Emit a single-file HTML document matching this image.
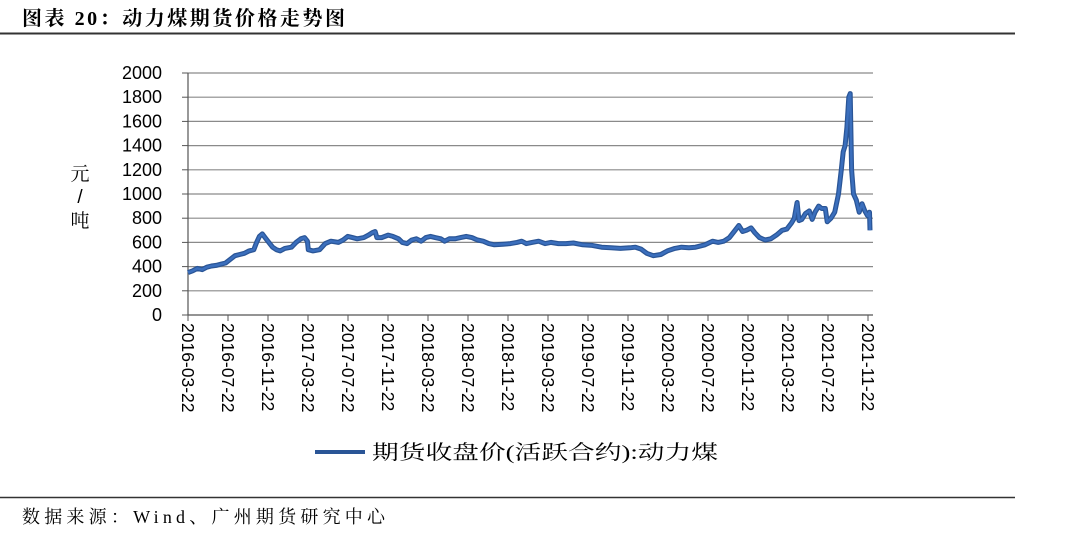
<!DOCTYPE html>
<html><head><meta charset="utf-8">
<style>
body{margin:0;background:#fff;width:1080px;height:541px;overflow:hidden}
svg{display:block}
text{font-family:"Liberation Sans","Noto Sans CJK SC",sans-serif}
.cn{font-family:"Liberation Serif","Noto Serif CJK SC",serif}
</style></head><body>
<svg id="s" width="1080" height="541" viewBox="0 0 1080 541" xmlns="http://www.w3.org/2000/svg">
<text x="22" y="25" class="cn" font-size="20" font-weight="bold" fill="#000" textLength="323" lengthAdjust="spacing">图表 20：动力煤期货价格走势图</text>
<line x1="0" y1="33.5" x2="1015" y2="33.5" stroke="#333" stroke-width="2"/>
<g id="grid"></g>
<g id="ylab" font-size="18" fill="#000" text-anchor="end" style="font-family:'DejaVu Sans',sans-serif"></g>
<text x="80" y="180" class="cn" font-size="19" text-anchor="middle">元</text>
<text x="80" y="203" font-size="19" text-anchor="middle">/</text>
<text x="80" y="227" class="cn" font-size="19" text-anchor="middle">吨</text>
<g id="xlab" font-size="17.5" fill="#000"></g>
<polyline id="ln1" fill="none" stroke="#2a5596" stroke-width="5" stroke-linejoin="round"/>
<polyline id="ln2" fill="none" stroke="#3b6fbd" stroke-width="2.5" stroke-linejoin="round"/>
<line x1="315" y1="452" x2="365" y2="452" stroke="#2a5596" stroke-width="4"/>
<text x="372" y="459" class="cn" font-size="20" textLength="346" lengthAdjust="spacingAndGlyphs">期货收盘价(活跃合约):动力煤</text>
<line x1="0" y1="497.5" x2="1015" y2="497.5" stroke="#333" stroke-width="1.5"/>
<text x="22" y="523" class="cn" font-size="18" textLength="363" lengthAdjust="spacing">数据来源：Wind、广州期货研究中心</text>
</svg>
<script>
var NS="http://www.w3.org/2000/svg";
function el(t,a,p){var e=document.createElementNS(NS,t);for(var k in a)e.setAttribute(k,a[k]);p.appendChild(e);return e;}
var g=document.getElementById('grid'),yl=document.getElementById('ylab'),xl=document.getElementById('xlab');
function Y(v){return 315-v*0.121;}
for(var v=0;v<=2000;v+=200){var y=Y(v);
 if(v>0)el('line',{x1:188,y1:y,x2:873,y2:y,stroke:'#8a8a8a','stroke-width':1.2},g);
 el('line',{x1:182,y1:y,x2:188,y2:y,stroke:'#555','stroke-width':1},g);
 var t=el('text',{x:162,y:y+6},yl);t.textContent=v;}
el('line',{x1:188,y1:73,x2:188,y2:315,stroke:'#555','stroke-width':1.2},g);
el('line',{x1:188,y1:315,x2:873,y2:315,stroke:'#555','stroke-width':1.2},g);
var labs=[];for(var yr=2016;yr<=2021;yr++)['03','07','11'].forEach(function(m){labs.push(yr+'-'+m+'-22');});
labs.forEach(function(l,i){var x=188+i*40;
 el('line',{x1:x,y1:315,x2:x,y2:321,stroke:'#555','stroke-width':1},g);
 var t=el('text',{transform:'translate('+(x-6)+',323) rotate(90)'},xl);t.textContent=l;});
var d=[[0,350],[0.5,365],[1,385],[1.5,375],[2,395],[2.5,405],[3,410],[3.5,420],[4,430],[4.5,460],[5,490],[5.5,500],[6,510],[6.5,530],[7,540],[7.3,600],[7.6,650],[7.9,670],[8.2,640],[8.6,600],[9,560],[9.4,540],[9.8,530],[10.3,550],[11,560],[11.5,600],[12,630],[12.4,640],[12.7,610],[12.8,540],[13.3,530],[14,540],[14.6,590],[15.2,610],[16,600],[16.5,620],[17,650],[17.5,640],[18,630],[18.7,640],[19.2,660],[19.6,680],[19.9,690],[20.1,640],[20.6,640],[21.3,660],[21.8,650],[22.4,630],[22.8,600],[23.3,590],[23.8,620],[24.3,630],[24.8,610],[25.3,640],[25.8,650],[26.3,640],[26.9,630],[27.3,610],[27.8,630],[28.4,630],[29,640],[29.6,650],[30.2,640],[30.8,620],[31.4,610],[32,590],[32.6,580],[33.5,585],[34.3,590],[35,600],[35.5,610],[36,590],[36.6,600],[37.3,610],[38,590],[38.6,600],[39.4,590],[40.2,590],[41,595],[42,580],[43,575],[44,560],[45,555],[46,550],[47,555],[47.6,560],[48.2,545],[48.8,510],[49.5,490],[50.3,500],[51,530],[51.8,550],[52.5,560],[53.3,555],[54,560],[55,580],[55.8,610],[56.4,600],[57,610],[57.6,640],[58.2,700],[58.6,740],[59,690],[59.4,700],[59.9,720],[60.3,680],[60.8,640],[61.4,620],[62,630],[62.6,660],[63.2,700],[63.7,710],[64.2,760],[64.5,800],[64.8,930],[65,780],[65.3,790],[65.7,840],[66.1,860],[66.4,790],[66.7,850],[67.1,900],[67.4,880],[67.8,880],[68,770],[68.4,800],[68.8,850],[69.2,1000],[69.5,1200],[69.7,1350],[69.9,1400],[70.1,1550],[70.3,1800],[70.45,1830],[70.6,1200],[70.8,1000],[71.1,950],[71.4,850],[71.7,920],[72,860],[72.3,820],[72.5,850],[72.55,700]];
var pts=d.map(function(p){return (188+p[0]*9.4).toFixed(1)+','+Y(p[1]).toFixed(1);}).join(' ');
document.getElementById('ln1').setAttribute('points',pts);
document.getElementById('ln2').setAttribute('points',pts);
</script>
</body></html>
